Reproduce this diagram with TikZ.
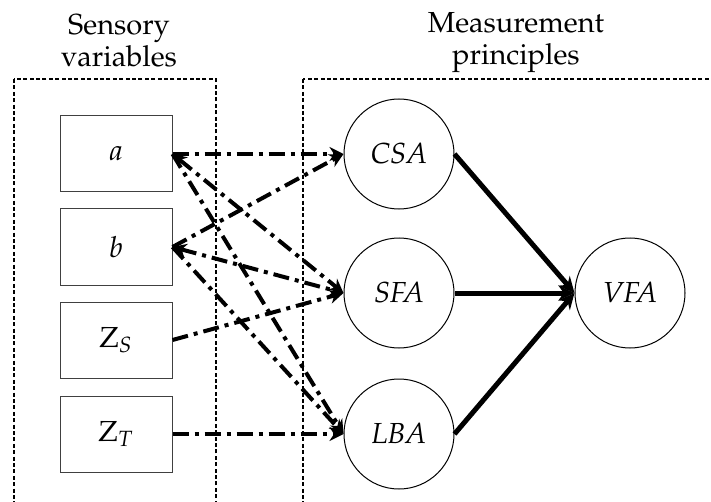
\documentclass[tikz,border=0pt]{standalone}
\usepackage[T1]{fontenc}
\usepackage{mathpazo}
\usetikzlibrary{arrows.meta}

\begin{document}
\begin{tikzpicture}[x=0.5pt,y=-0.5pt,
   font=\fontsize{14.5}{16}\selectfont,
   >={Stealth[length=7pt,width=7pt]},
   var/.style={draw=black!75,line width=0.5pt,minimum width=56pt,minimum height=38pt,inner sep=0pt},
   prin/.style={circle,draw,line width=0.5pt,minimum size=55pt,inner sep=0pt},
   grp/.style={dash pattern=on 2pt off 1.2pt,line width=0.8pt},
   link/.style={line width=2pt,dash pattern=on 8pt off 3pt on 2pt off 3pt},
   feed/.style={line width=2.5pt,-{Stealth[length=8pt,width=7.5pt]}}]
   \useasboundingbox (0,0) rectangle (711,502);
   \draw[grp] (14,79) rectangle (216,530);
   \draw[grp] (303,79) rectangle (730,530);
   \node[align=center] (tsv) at (119,41) {Sensory\\variables};
   \node[align=center] (tmp) at (516,43) {Measurement\\principles};
   \node[var] (a) at (116,154) {$a$};
   \node[var] (b) at (116,247) {$b$};
   \node[var] (zs) at (116,340) {$\mathrm{Z}_S$};
   \node[var] (zt) at (116,434) {$\mathrm{Z}_T$};
   \node[prin] (csa) at (399,154) {\textit{CSA}};
   \node[prin] (sfa) at (399,293) {\textit{SFA}};
   \node[prin] (lba) at (399,434) {\textit{LBA}};
   \node[prin] (vfa) at (630,293) {\textit{VFA}};
   \draw[link,->] (a.east) -- (csa.west);
   \draw[link,<->] (a.east) -- (sfa.west);
   \draw[link,->] (a.east) -- (lba.west);
   \draw[link,->] (b.east) -- (csa.west);
   \draw[link,<->] (b.east) -- (sfa.west);
   \draw[link,->] (b.east) -- (lba.west);
   \draw[link,->] (zs.east) -- (sfa.west);
   \draw[link,->] (zt.east) -- (lba.west);
   \foreach \p in {csa,sfa,lba}
    \draw[feed] (\p.east) -- (vfa.west);
\end{tikzpicture}
\end{document}
